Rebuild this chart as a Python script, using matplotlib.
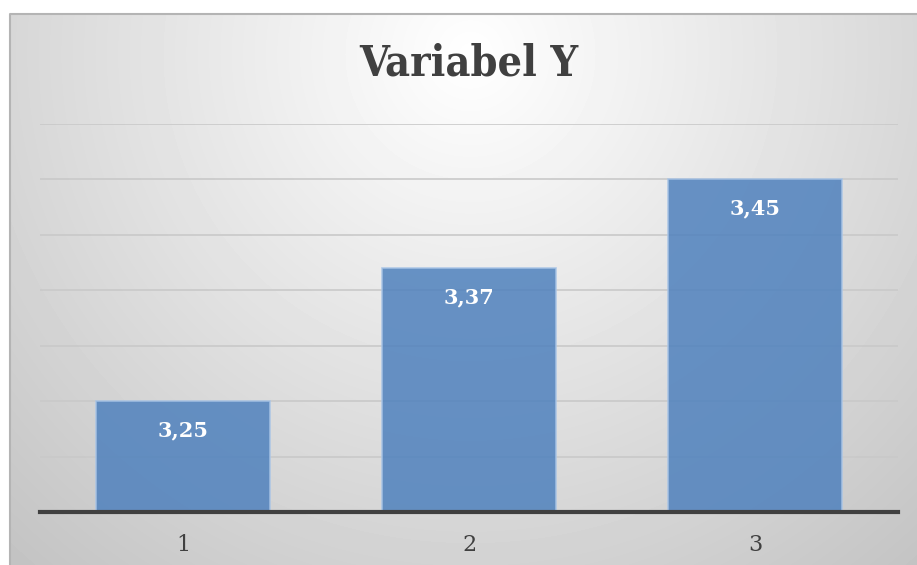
import matplotlib.pyplot as plt
import numpy as np
from matplotlib.patches import Rectangle

# data
categories = ['1', '2', '3']
values = [3.25, 3.37, 3.45]
labels = ['3,25', '3,37', '3,45']
title = 'Variabel Y'

W, H = 917, 565
fig = plt.figure(figsize=(W / 100, H / 100), dpi=100)

# background panel with radial gradient (white near title -> gray at edges)
bg = fig.add_axes([10 / W, 0, (W - 10) / W, (H - 14) / H], zorder=-2)
yy, xx = np.mgrid[0:H - 14, 0:W - 10]
r = np.sqrt(((xx - 460) / 640.0) ** 2 + ((yy - 40) / 640.0) ** 2)
shade = np.clip(1.0 - 0.22 * r, 0.76, 1.0)
bg.imshow(shade, cmap='gray', vmin=0, vmax=1, aspect='auto',
          interpolation='bilinear', origin='upper')
bg.set_axis_off()
# thin gray frame on top and left
fig.add_artist(plt.Line2D([10 / W, 10 / W, 1], [0, (H - 14) / H, (H - 14) / H],
                          transform=fig.transFigure, color='#b4b4b4',
                          linewidth=1.5, zorder=5))

ax = fig.add_axes([40 / W, 53 / H, 858 / W, 388 / H])
ax.patch.set_alpha(0)
x = np.arange(len(categories))
bars = ax.bar(x, values, width=0.605, color='#4f81bd', alpha=0.85,
              edgecolor='#a8c4e6', linewidth=1.2, zorder=2)

ax.set_xlim(-0.5, 2.5)
ax.set_ylim(3.15, 3.50)
ax.set_yticks(np.arange(3.15, 3.501, 0.05))
ax.yaxis.grid(True, color='#c9c9c9', linewidth=1.2, zorder=1)
ax.set_axisbelow(True)
ax.tick_params(axis='y', left=False, labelleft=False)
ax.tick_params(axis='x', bottom=False, pad=12)
ax.set_xticks(x)
ax.set_xticklabels(categories, fontsize=16, color='#404040',
                   family='DejaVu Serif')
for s in ['top', 'right', 'left']:
    ax.spines[s].set_visible(False)
ax.spines['bottom'].set_color('#404040')
ax.spines['bottom'].set_linewidth(3)
ax.spines['bottom'].set_zorder(4)

for xi, v, lab in zip(x, values, labels):
    ax.annotate(lab, xy=(xi, v), xytext=(0, -21), textcoords='offset points',
                ha='center', va='center', color='white', fontsize=15,
                fontweight='bold', family='DejaVu Serif', zorder=5)

fig.text(469 / W, 1 - 63 / H, title, ha='center', va='center',
         fontsize=31, fontweight='bold', color='#404040',
         family='DejaVu Serif', fontstretch='condensed')

fig.savefig('out.png', dpi=100)
